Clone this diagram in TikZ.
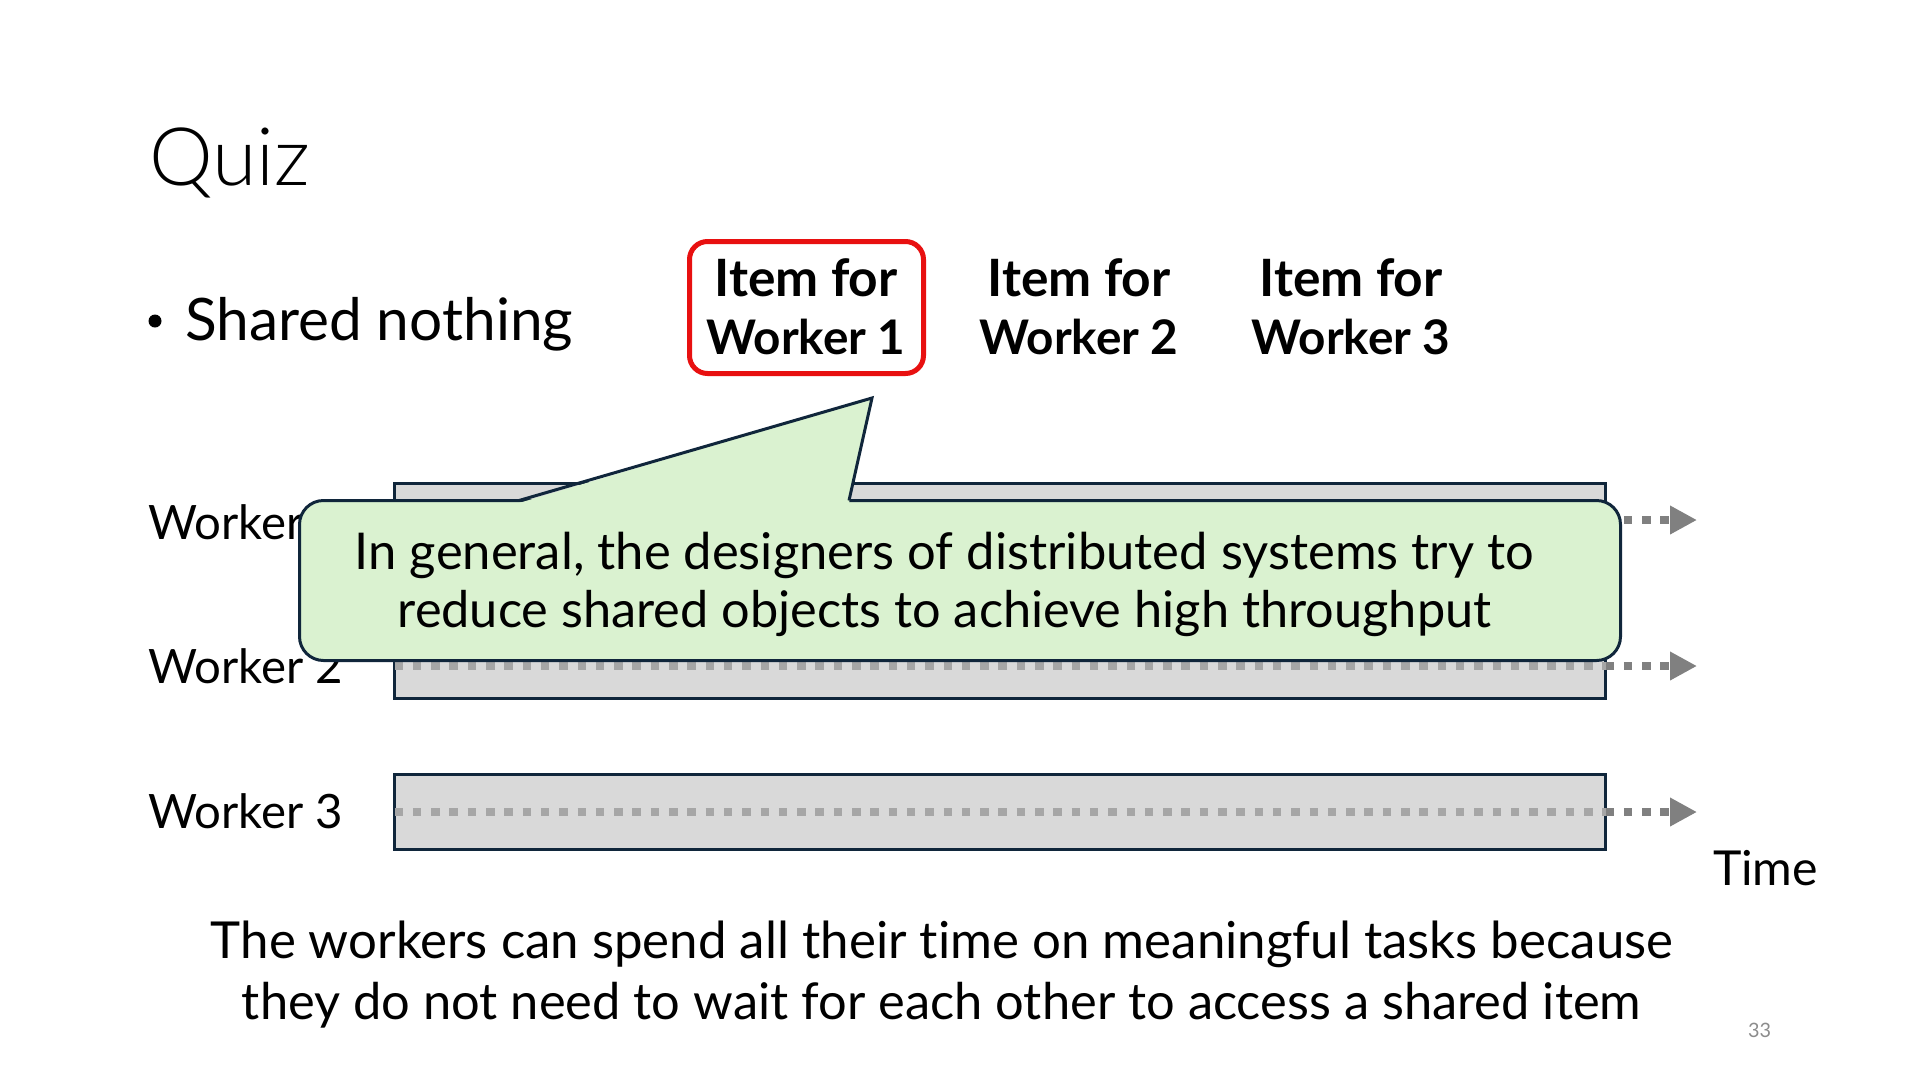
\documentclass[tikz,border=0pt]{standalone}
\usepackage{fontspec}
\usepackage{graphicx}
\setmainfont{Lato}[Ligatures={NoCommon}]
\newfontfamily\titlefont{Lato Light}[Ligatures={NoCommon}]
\usetikzlibrary{arrows.meta}
\definecolor{navy}{HTML}{10263B}
\definecolor{callfill}{HTML}{DAF2D0}
\definecolor{barfill}{HTML}{D9D9D9}
\definecolor{dotinner}{HTML}{A6A6A6}
\definecolor{dotouter}{HTML}{808080}
\definecolor{boxred}{HTML}{E81010}
\definecolor{pagegray}{HTML}{8C8C8C}
\newcommand{\fitw}[2]{\resizebox{#1pt}{!}{#2}}
\begin{document}
\begin{tikzpicture}[x=1pt,y=-1pt,
  txt/.style={inner sep=0pt, outer sep=0pt},
  barbox/.style={draw=navy, line width=3pt, fill=barfill, inner sep=0pt, outer sep=0pt, minimum width=1211pt},
  dotin/.style={draw=dotinner, line width=8.5pt, dash pattern=on 8.5pt off 9.8pt},
  dotout/.style={draw=dotouter, line width=8.5pt, dash pattern=on 8.5pt off 9.8pt, -{Triangle[length=27pt,width=27pt]}},
  callbox/.style={draw=navy, line width=3pt, fill=callfill, rounded corners=24pt, inner sep=0pt, outer sep=0pt},
  itembox/.style={draw=boxred, line width=5pt, rounded corners=18pt, inner sep=0pt, outer sep=0pt}
]
\useasboundingbox (0,0) rectangle (1920,1080);
\fill[white] (0,0) rectangle (1920,1080);

% title and bullet
\node[txt, anchor=base west] (title) at (149,185) {\fitw{161}{\titlefont Quiz}};
\node[circle, fill=black, inner sep=0pt, minimum size=13pt] (bullet) at (155,321) {};
\node[txt, anchor=base west] (shared) at (185,340) {\fitw{388}{Shared nothing}};

% items
\node[itembox, minimum width=234pt, minimum height=132pt] (redbox) at (806.5,307.5) {};
\node[txt, anchor=base] (i1a) at (806,296) {\fitw{183}{\bfseries Item for}};
\node[txt, anchor=base] (i1b) at (806,354) {\fitw{199}{\bfseries Worker 1}};
\node[txt, anchor=base] (i2a) at (1079,296) {\fitw{183}{\bfseries Item for}};
\node[txt, anchor=base] (i2b) at (1079,354) {\fitw{199}{\bfseries Worker 2}};
\node[txt, anchor=base] (i3a) at (1351,296) {\fitw{183}{\bfseries Item for}};
\node[txt, anchor=base] (i3b) at (1351,354) {\fitw{199}{\bfseries Worker 3}};

% worker labels
\node[txt, anchor=base west] (w1) at (148,539) {\fitw{195}{Worker 1}};
\node[txt, anchor=base west] (w2) at (148,683) {\fitw{195}{Worker 2}};
\node[txt, anchor=base west] (w3) at (148,828) {\fitw{195}{Worker 3}};

% bars
\node[barbox, minimum height=73pt] (bar1) at (1000,520) {};
\node[barbox, minimum height=65pt] (bar2) at (1000,666) {};
\node[barbox, minimum height=75pt] (bar3) at (1000,812) {};
\coordinate (e1) at (1697,520);
\coordinate (e2) at (1697,666);
\coordinate (e3) at (1697,812);
\draw[dotin] (bar1.west) -- (bar1.east);
\draw[dotout] (bar1.east) -- (e1);
\draw[dotin] (bar2.west) -- (bar2.east);
\draw[dotout] (bar2.east) -- (e2);
\draw[dotin] (bar3.west) -- (bar3.east);
\draw[dotout] (bar3.east) -- (e3);

\node[txt, anchor=base west] (time) at (1713,885) {\fitw{105}{Time}};

% callout
\node[callbox, minimum width=1321pt, minimum height=160pt] (callout) at (960,580.5) {};
\coordinate (pa) at (519,500.5);
\coordinate (ptip) at (872,398);
\coordinate (pb) at (849,500.5);
\fill[callfill] ([yshift=-2.5pt]pa) -- (ptip) -- ([yshift=-2.5pt]pb) -- cycle;
\draw[navy, line width=3pt, line join=miter] (pa) -- (ptip) -- (pb);
\node[txt, anchor=base] (c1) at (944.5,569) {\fitw{1179}{In general, the designers of distributed systems try to}};
\node[txt, anchor=base] (c2) at (944.5,627) {\fitw{1093}{reduce shared objects to achieve high throughput}};

% bottom text
\node[txt, anchor=base] (b1) at (942,958) {\fitw{1462}{The workers can spend all their time on meaningful tasks because}};
\node[txt, anchor=base] (b2) at (941.5,1019) {\fitw{1399}{they do not need to wait for each other to access a shared item}};

\node[txt, anchor=base west, text=pagegray] (page) at (1748,1037) {\fitw{23}{33}};
\end{tikzpicture}
\end{document}
